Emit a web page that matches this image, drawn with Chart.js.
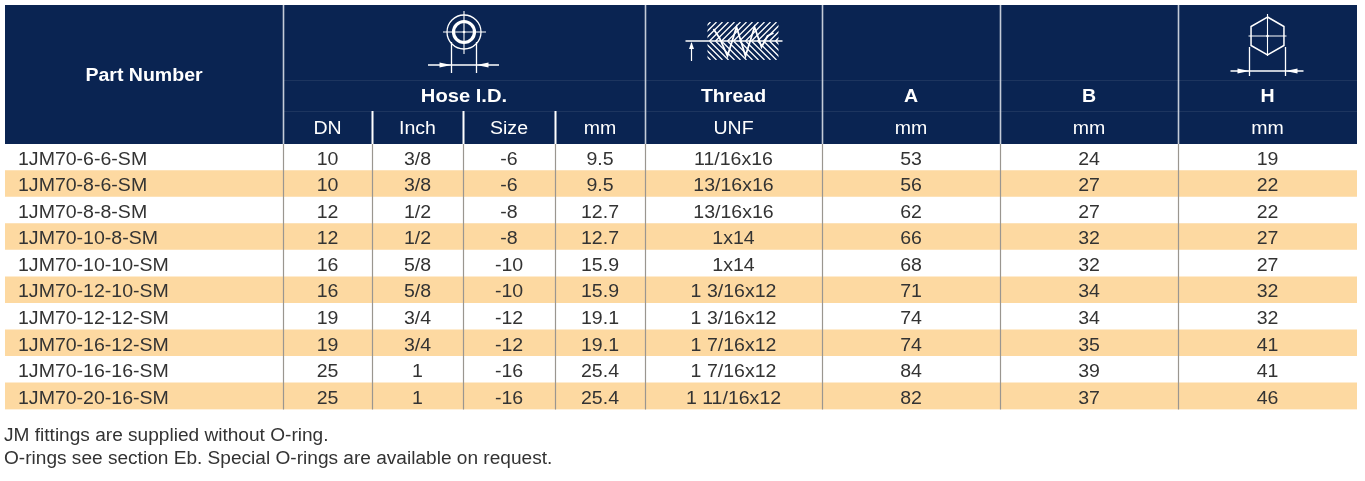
<!DOCTYPE html>
<html>
<head>
<meta charset="utf-8">
<script src="https://cdn.jsdelivr.net/npm/chart.js@4.4.1/dist/chart.umd.min.js"></script>
<style>
  html, body { margin: 0; padding: 0; background: #ffffff; }
  #wrap { position: relative; width: 1365px; height: 481px; }
</style>
</head>
<body>
<div id="wrap"><canvas id="c"></canvas></div>
<script>
// ---------- DATA ----------
const partNumbers = ['1JM70-6-6-SM', '1JM70-8-6-SM', '1JM70-8-8-SM', '1JM70-10-8-SM', '1JM70-10-10-SM',
  '1JM70-12-10-SM', '1JM70-12-12-SM', '1JM70-16-12-SM', '1JM70-16-16-SM', '1JM70-20-16-SM'];
const hoseDN = ['10', '10', '12', '12', '16', '16', '19', '19', '25', '25'];
const hoseInch = ['3/8', '3/8', '1/2', '1/2', '5/8', '5/8', '3/4', '3/4', '1', '1'];
const hoseSize = ['-6', '-6', '-8', '-8', '-10', '-10', '-12', '-12', '-16', '-16'];
const hoseMM = ['9.5', '9.5', '12.7', '12.7', '15.9', '15.9', '19.1', '19.1', '25.4', '25.4'];
const threadUNF = ['11/16x16', '13/16x16', '13/16x16', '1x14', '1x14', '1 3/16x12', '1 3/16x12', '1 7/16x12', '1 7/16x12', '1 11/16x12'];
const dimA = ['53', '56', '62', '66', '68', '71', '74', '74', '84', '82'];
const dimB = ['24', '27', '27', '32', '32', '34', '34', '35', '39', '37'];
const dimH = ['19', '22', '22', '27', '27', '32', '32', '41', '41', '46'];

const headerMain = ['Part Number', 'Hose I.D.', 'Thread', 'A', 'B', 'H'];
const headerUnits = ['', 'DN', 'Inch', 'Size', 'mm', 'UNF', 'mm', 'mm', 'mm'];
const footnotes = ['JM fittings are supplied without O-ring.',
  'O-rings see section Eb. Special O-rings are available on request.'];

// ---------- LAYOUT / STYLE ----------
const COL_WIDTHS = [278, 89, 91, 92, 90, 177, 178, 178, 179];
const COL_EDGES = COL_WIDTHS.reduce((a, w) => { a.push(a[a.length - 1] + w); return a; }, [0]);
const TOTAL = COL_EDGES[COL_EDGES.length - 1];
const NAVY = '#0a2452';
const STRIPE = '#fdd9a1';
const TEXT = '#333333';
const FONT = '"Liberation Sans", Arial, sans-serif';
const HEADER_TOP = 5;
const STRETCH = 1.085;      // glyph widening to mimic the reference typeface
const NOTE_STRETCH = 1.06;

const columns = [partNumbers, hoseDN, hoseInch, hoseSize, hoseMM, threadUNF, dimA, dimB, dimH];

function colCenter(x, i) { return x.getPixelForValue((COL_EDGES[i] + COL_EDGES[i + 1]) / 2); }
function edgePx(x, i) { return x.getPixelForValue(COL_EDGES[i]); }

function drawText(ctx, txt, px, py, align, sx) {
  ctx.save();
  ctx.textAlign = align;
  ctx.translate(px, py);
  ctx.scale(sx, 1);
  ctx.fillText(txt, 0, 0);
  ctx.restore();
}

function arrowHead(ctx, x, y, dir) {
  ctx.beginPath();
  ctx.moveTo(x, y);
  ctx.lineTo(x - dir * 12, y - 2.5);
  ctx.lineTo(x - dir * 12, y + 2.5);
  ctx.closePath();
  ctx.fill();
}

function drawHoseIcon(ctx, cx) {
  const cy = 32;
  ctx.save();
  ctx.strokeStyle = '#ffffff'; ctx.fillStyle = '#ffffff';
  ctx.lineWidth = 1.3;
  ctx.beginPath(); ctx.arc(cx, cy, 17, 0, Math.PI * 2); ctx.stroke();
  ctx.lineWidth = 3.2;
  ctx.beginPath(); ctx.arc(cx, cy, 10.5, 0, Math.PI * 2); ctx.stroke();
  ctx.lineWidth = 1.1;
  ctx.beginPath();
  ctx.moveTo(cx - 21, cy); ctx.lineTo(cx + 22, cy);
  ctx.moveTo(cx, cy - 21); ctx.lineTo(cx, cy + 22);
  ctx.stroke();
  ctx.beginPath(); ctx.arc(cx, cy, 1.3, 0, Math.PI * 2); ctx.fill();
  ctx.lineWidth = 1.3;
  ctx.beginPath();
  ctx.moveTo(cx - 12.5, cy + 10); ctx.lineTo(cx - 12.5, cy + 41);
  ctx.moveTo(cx + 12.5, cy + 10); ctx.lineTo(cx + 12.5, cy + 41);
  ctx.moveTo(cx - 36, cy + 33); ctx.lineTo(cx + 35, cy + 33);
  ctx.stroke();
  arrowHead(ctx, cx - 12.5, cy + 33, 1);
  arrowHead(ctx, cx + 12.5, cy + 33, -1);
  ctx.restore();
}

function drawThreadIcon(ctx, cx) {
  const base = 41;
  ctx.save();
  ctx.strokeStyle = '#ffffff'; ctx.fillStyle = '#ffffff';
  ctx.save();
  ctx.beginPath(); ctx.rect(cx - 26, 22, 71, 38); ctx.clip();
  ctx.lineWidth = 1.25;
  ctx.beginPath();
  for (let k = -40; k < 80; k += 6) {
    ctx.moveTo(cx - 26 + k, 41); ctx.lineTo(cx - 26 + k + 19, 22);
    ctx.moveTo(cx - 26 + k, 41); ctx.lineTo(cx - 26 + k + 19, 60);
  }
  ctx.stroke();
  ctx.restore();
  ctx.lineWidth = 1.8;
  ctx.beginPath();
  const zx = cx - 14;
  ctx.moveTo(zx - 6, 29);
  ctx.lineTo(zx, 38); ctx.lineTo(zx + 8, 56); ctx.lineTo(zx + 17, 27);
  ctx.lineTo(zx + 26, 56); ctx.lineTo(zx + 35, 27); ctx.lineTo(zx + 42, 47);
  ctx.lineTo(zx + 48, 36); ctx.lineTo(zx + 54, 33);
  ctx.stroke();
  ctx.lineWidth = 1.6;
  ctx.beginPath(); ctx.moveTo(cx - 48, base); ctx.lineTo(cx + 49, base); ctx.stroke();
  ctx.lineWidth = 1.2;
  ctx.beginPath(); ctx.moveTo(cx - 42, 61); ctx.lineTo(cx - 42, base + 2); ctx.stroke();
  ctx.beginPath(); ctx.moveTo(cx - 42, base + 1); ctx.lineTo(cx - 44.5, base + 8); ctx.lineTo(cx - 39.5, base + 8); ctx.closePath(); ctx.fill();
  ctx.restore();
}

function drawHexIcon(ctx, cx) {
  const cy = 36, r = 19;
  ctx.save();
  ctx.strokeStyle = '#ffffff'; ctx.fillStyle = '#ffffff';
  ctx.lineWidth = 1.5;
  ctx.beginPath();
  for (let k = 0; k < 6; k++) {
    const a = -Math.PI / 2 + k * Math.PI / 3;
    const px = cx + r * Math.cos(a), py = cy + r * Math.sin(a);
    if (k === 0) ctx.moveTo(px, py); else ctx.lineTo(px, py);
  }
  ctx.closePath(); ctx.stroke();
  ctx.lineWidth = 1.1;
  ctx.beginPath();
  ctx.moveTo(cx - 19, cy); ctx.lineTo(cx + 19, cy);
  ctx.moveTo(cx, cy - 22); ctx.lineTo(cx, cy + 20);
  ctx.stroke();
  ctx.beginPath(); ctx.arc(cx, cy, 1.3, 0, Math.PI * 2); ctx.fill();
  ctx.lineWidth = 1.3;
  ctx.beginPath();
  ctx.moveTo(cx - 18, cy + 11); ctx.lineTo(cx - 18, cy + 40);
  ctx.moveTo(cx + 18, cy + 11); ctx.lineTo(cx + 18, cy + 40);
  ctx.moveTo(cx - 37, cy + 35); ctx.lineTo(cx + 36, cy + 35);
  ctx.stroke();
  arrowHead(ctx, cx - 18, cy + 35, 1);
  arrowHead(ctx, cx + 18, cy + 35, -1);
  ctx.restore();
}

const tablePlugin = {
  id: 'tablePlugin',
  beforeDatasetsDraw(chart) {
    const { ctx, chartArea, scales: { x } } = chart;
    const left = x.getPixelForValue(0), right = x.getPixelForValue(TOTAL);
    ctx.save();
    ctx.fillStyle = NAVY;
    ctx.fillRect(left, HEADER_TOP, right - left, chartArea.top - HEADER_TOP);
    ctx.strokeStyle = 'rgba(255,255,255,0.08)';
    ctx.lineWidth = 1;
    ctx.beginPath();
    ctx.moveTo(edgePx(x, 1), 80.5); ctx.lineTo(right, 80.5);
    ctx.moveTo(edgePx(x, 1), 111.5); ctx.lineTo(right, 111.5);
    ctx.stroke();
    ctx.restore();
  },
  afterDatasetsDraw(chart) {
    const { ctx, chartArea, scales: { x, y } } = chart;
    ctx.save();
    // body vertical rules
    ctx.strokeStyle = '#9a9690';
    ctx.lineWidth = 1.2;
    ctx.beginPath();
    for (let i = 1; i < COL_EDGES.length - 1; i++) {
      const px = Math.round(edgePx(x, i)) + 0.5;
      ctx.moveTo(px, chartArea.top); ctx.lineTo(px, chartArea.bottom);
    }
    ctx.stroke();
    // header vertical rules
    ctx.strokeStyle = '#c4cbd8';
    ctx.lineWidth = 1.6;
    ctx.beginPath();
    [1, 5, 6, 7, 8].forEach(i => { const px = Math.round(edgePx(x, i)) + 0.5; ctx.moveTo(px, HEADER_TOP); ctx.lineTo(px, chartArea.top); });
    ctx.stroke();
    ctx.strokeStyle = '#ffffff';
    ctx.lineWidth = 2;
    ctx.beginPath();
    [2, 3, 4].forEach(i => { const px = Math.round(edgePx(x, i)) + 0.5; ctx.moveTo(px, 111); ctx.lineTo(px, chartArea.top); });
    ctx.stroke();

    // header text
    ctx.fillStyle = '#ffffff';
    ctx.textBaseline = 'middle';
    ctx.font = 'bold 18px ' + FONT;
    drawText(ctx, headerMain[0], colCenter(x, 0), 76.5, 'center', STRETCH);
    const hoseCenter = (edgePx(x, 1) + edgePx(x, 5)) / 2;
    drawText(ctx, headerMain[1], hoseCenter, 97.5, 'center', 1.12);
    drawText(ctx, headerMain[2], colCenter(x, 5), 97.5, 'center', STRETCH);
    drawText(ctx, headerMain[3], colCenter(x, 6), 97.5, 'center', STRETCH);
    drawText(ctx, headerMain[4], colCenter(x, 7), 97.5, 'center', STRETCH);
    drawText(ctx, headerMain[5], colCenter(x, 8), 97.5, 'center', STRETCH);
    ctx.font = '18px ' + FONT;
    for (let i = 1; i < headerUnits.length; i++) drawText(ctx, headerUnits[i], colCenter(x, i), 129.5, 'center', STRETCH);

    drawHoseIcon(ctx, hoseCenter);
    drawThreadIcon(ctx, colCenter(x, 5));
    drawHexIcon(ctx, colCenter(x, 8));

    // body text
    ctx.fillStyle = TEXT;
    ctx.font = '18px ' + FONT;
    columns.forEach((col, ci) => {
      col.forEach((val, ri) => {
        const py = y.getPixelForValue(ri) + 2.5;
        if (ci === 0) drawText(ctx, val, x.getPixelForValue(COL_EDGES[0]) + 13, py, 'left', STRETCH);
        else drawText(ctx, val, colCenter(x, ci), py, 'center', STRETCH);
      });
    });

    // footnotes
    ctx.fillStyle = TEXT;
    ctx.font = '18px ' + FONT;
    drawText(ctx, footnotes[0], 4, 436, 'left', NOTE_STRETCH);
    drawText(ctx, footnotes[1], 4, 459.5, 'left', NOTE_STRETCH);
    ctx.restore();
  }
};

new Chart(document.getElementById('c'), {
  type: 'bar',
  data: {
    labels: partNumbers,
    datasets: [{
      label: 'rows',
      data: partNumbers.map(() => [0, TOTAL]),
      backgroundColor: partNumbers.map((_, i) => i % 2 === 1 ? STRIPE : '#ffffff'),
      borderWidth: 0,
      barPercentage: 1.0,
      categoryPercentage: 1.0,
      borderSkipped: false
    }]
  },
  options: {
    indexAxis: 'y',
    responsive: true,
    maintainAspectRatio: false,
    animation: false,
    devicePixelRatio: 1,
    layout: { padding: { left: 5, right: 8, top: 144, bottom: 71.5 } },
    plugins: { legend: { display: false }, tooltip: { enabled: false } },
    scales: {
      x: { type: 'linear', min: 0, max: TOTAL, display: false },
      y: { type: 'category', display: false, offset: true }
    }
  },
  plugins: [tablePlugin]
});
</script>
</body>
</html>
